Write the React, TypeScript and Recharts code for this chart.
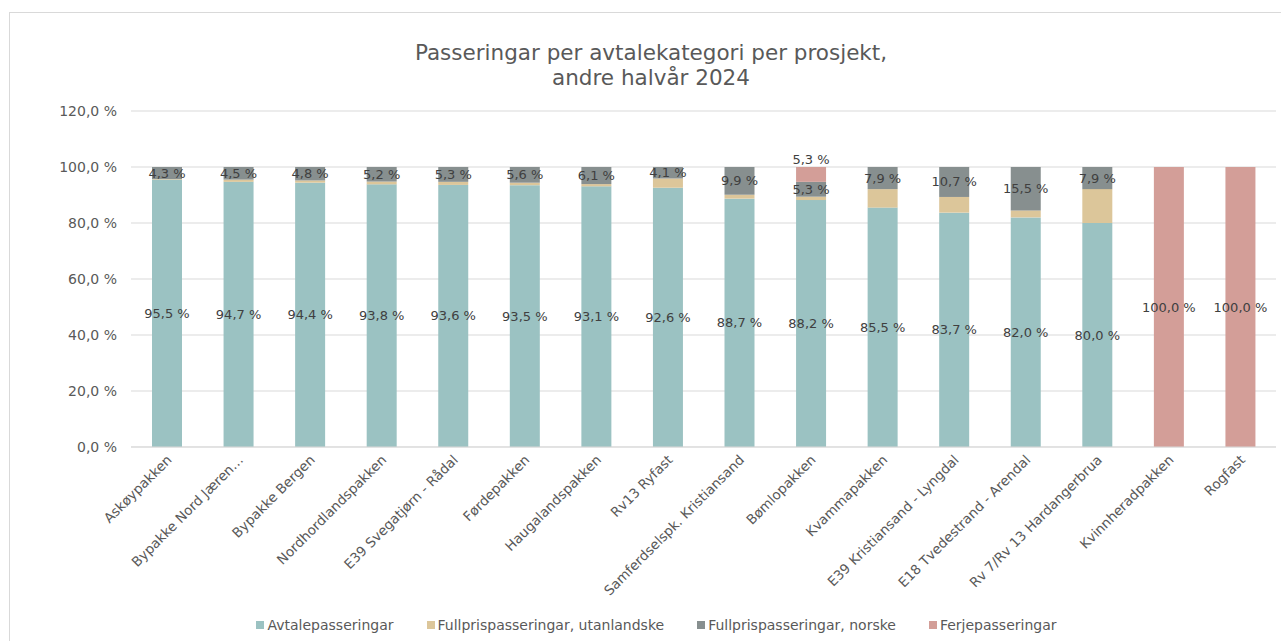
import { BarChart, Bar, XAxis, YAxis, CartesianGrid, Legend, LabelList } from "recharts";

const categories = [
  "Askøypakken",
  "Bypakke Nord Jæren…",
  "Bypakke Bergen",
  "Nordhordlandspakken",
  "E39 Svegatjørn - Rådal",
  "Førdepakken",
  "Haugalandspakken",
  "Rv13 Ryfast",
  "Samferdselspk. Kristiansand",
  "Bømlopakken",
  "Kvammapakken",
  "E39 Kristiansand - Lyngdal",
  "E18 Tvedestrand - Arendal",
  "Rv 7/Rv 13 Hardangerbrua",
  "Kvinnheradpakken",
  "Rogfast",
];

const avtale = [95.5, 94.7, 94.4, 93.8, 93.6, 93.5, 93.1, 92.6, 88.7, 88.2, 85.5, 83.7, 82.0, 80.0, null, null];
const utanlandske = [0.2, 0.8, 0.8, 1.0, 1.1, 0.9, 0.8, 3.3, 1.4, 1.2, 6.6, 5.6, 2.5, 12.1, null, null];
const norske = [4.3, 4.5, 4.8, 5.2, 5.3, 5.6, 6.1, 4.1, 9.9, 5.3, 7.9, 10.7, 15.5, 7.9, null, null];
const ferje = [null, null, null, null, null, null, null, null, null, 5.3, null, null, null, null, 100.0, 100.0];

const yTicks = [0, 20, 40, 60, 80, 100, 120];

const seriesNames = [
  "Avtalepasseringar",
  "Fullprispasseringar, utanlandske",
  "Fullprispasseringar, norske",
  "Ferjepasseringar",
];

const data = categories.map((name, i) => ({
  name,
  avtale: avtale[i],
  utanlandske: utanlandske[i],
  norske: norske[i],
  ferje: ferje[i],
}));

const FONT = "'DejaVu Sans', Verdana, sans-serif";
const pct = (v: number) => v.toFixed(1).replace(".", ",") + " %";

const centerLabel = (props: any) => {
  const { x, y, width, height, value } = props;
  if (value == null) return null;
  return (
    <text
      x={x + width / 2}
      y={y + height / 2}
      textAnchor="middle"
      dominantBaseline="central"
      fontSize={13}
      fontFamily={FONT}
      fill="#404040"
    >
      {pct(value)}
    </text>
  );
};

// small ferry share sits above the bar, full ferry bars get the label in the middle
const ferjeLabel = (props: any) => {
  const { x, y, width, height, value } = props;
  if (value == null) return null;
  const ly = value < 50 ? y - 8 : y + height / 2;
  return (
    <text
      x={x + width / 2}
      y={ly}
      textAnchor="middle"
      dominantBaseline="central"
      fontSize={13}
      fontFamily={FONT}
      fill="#404040"
    >
      {pct(value)}
    </text>
  );
};

const XTick = (props: any) => {
  const { x, y, payload } = props;
  return (
    <g transform={`translate(${x - 1},${y - 1})`}>
      <text
        transform="rotate(-45)"
        textAnchor="end"
        dy="0.71em"
        fontSize={13.5}
        fontFamily={FONT}
        fill="#595959"
      >
        {payload.value}
      </text>
    </g>
  );
};

const LegendContent = (props: any) => {
  const items = [...(props.payload || [])].sort(
    (a: any, b: any) => seriesNames.indexOf(a.value) - seriesNames.indexOf(b.value)
  );
  return (
    <div style={{ display: "flex", justifyContent: "center", paddingLeft: 60, fontSize: 14, color: "#595959" }}>
      {items.map((it: any) => (
        <div key={it.value} style={{ display: "flex", alignItems: "center", marginRight: 33 }}>
          <span style={{ width: 8, height: 8, background: it.color, marginRight: 3, display: "inline-block" }} />
          <span>{it.value}</span>
        </div>
      ))}
    </div>
  );
};

export default function App() {
  return (
    <div
      style={{
        position: "absolute",
        left: 9,
        top: 12,
        width: 1300,
        height: 660,
        border: "1px solid #d9d9d9",
        background: "#fff",
        fontFamily: FONT,
      }}
    >
      <div
        style={{
          position: "absolute",
          top: 27,
          left: 0,
          width: 1282,
          textAlign: "center",
          fontSize: 21.5,
          lineHeight: "25px",
          color: "#595959",
        }}
      >
        Passeringar per avtalekategori per prosjekt,
        <br />
        andre halvår 2024
      </div>
      <BarChart
        width={1271}
        height={628}
        data={data}
        margin={{ top: 98, right: 5, bottom: 8, left: 0 }}
        barSize={30}
      >
        <CartesianGrid vertical={false} stroke="#d9d9d9" />
        <XAxis
          dataKey="name"
          interval={0}
          height={170}
          tick={<XTick />}
          tickLine={false}
          axisLine={{ stroke: "#d9d9d9" }}
        />
        <YAxis
          domain={[0, 120]}
          ticks={yTicks}
          width={121}
          tickFormatter={pct}
          tickLine={false}
          axisLine={false}
          tickSize={6}
          tickMargin={8}
          tick={{ fontSize: 14, fill: "#595959", fontFamily: FONT }}
        />
        <Legend verticalAlign="bottom" content={<LegendContent />} />
        <Bar dataKey="avtale" name={seriesNames[0]} stackId="a" fill="#9bc2c2" isAnimationActive={false}>
          <LabelList dataKey="avtale" content={centerLabel} />
        </Bar>
        <Bar dataKey="utanlandske" name={seriesNames[1]} stackId="a" fill="#dcc69a" isAnimationActive={false} />
        <Bar dataKey="norske" name={seriesNames[2]} stackId="a" fill="#878f8f" isAnimationActive={false}>
          <LabelList dataKey="norske" content={centerLabel} />
        </Bar>
        <Bar dataKey="ferje" name={seriesNames[3]} stackId="a" fill="#d39e98" isAnimationActive={false}>
          <LabelList dataKey="ferje" content={ferjeLabel} />
        </Bar>
      </BarChart>
    </div>
  );
}
